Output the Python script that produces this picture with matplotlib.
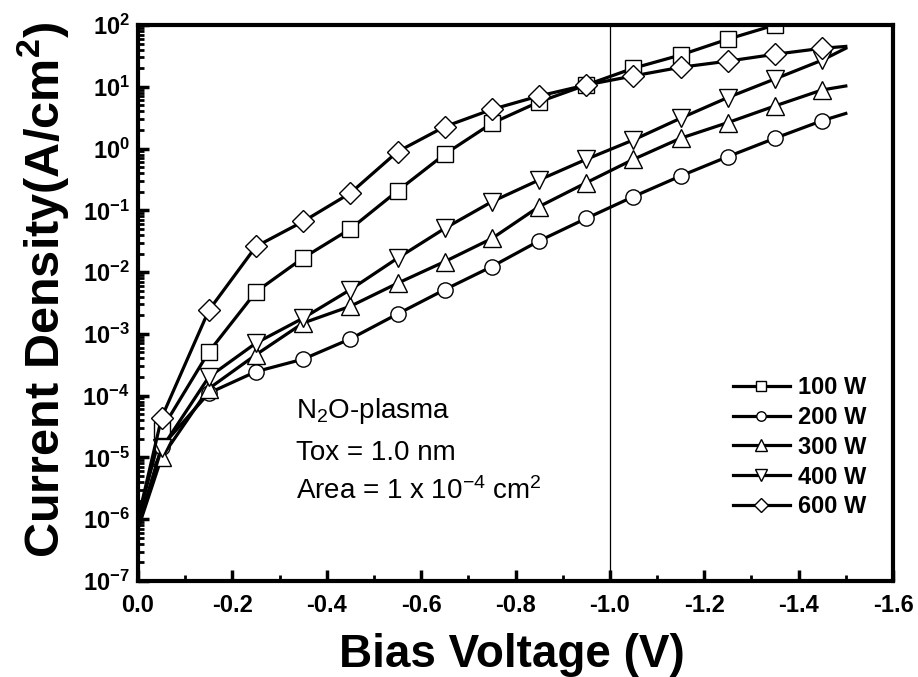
import numpy as np
import matplotlib
matplotlib.use('Agg')
import matplotlib.pyplot as plt
from matplotlib.lines import Line2D
from matplotlib.ticker import LogLocator, NullFormatter, MultipleLocator, FormatStrFormatter

plt.rcParams['font.family'] = ['Liberation Sans', 'DejaVu Sans']
plt.rcParams['font.weight'] = 'bold'
plt.rcParams['mathtext.default'] = 'regular'

# ---------------- data ----------------
bias_marker = [-0.05, -0.15, -0.25, -0.35, -0.45, -0.55, -0.65, -0.75,
               -0.85, -0.95, -1.05, -1.15, -1.25, -1.35, -1.45]
bias_start = 0.0
bias_end = -1.5

labels = ['100 W', '200 W', '300 W', '400 W', '600 W']
markers = ['s', 'o', '^', 'v', 'D']
marker_sizes = [11, 11, 13, 13, 11]

j_100 = [2.8e-5, 5.1e-4, 4.8e-3, 1.7e-2, 5.0e-2, 2.06e-1, 8.1e-1, 2.57, 5.7,
         10.7, 20.0, 32.7, 59.0, 100.0, 165.0]
j_200 = [1.5e-5, 1.1e-4, 2.45e-4, 3.9e-4, 8.3e-4, 2.1e-3, 5.2e-3, 1.23e-2,
         3.2e-2, 7.4e-2, 1.67e-1, 3.6e-1, 7.4e-1, 1.47, 2.83]
j_300 = [1.0e-5, 1.3e-4, 4.6e-4, 1.5e-3, 2.8e-3, 6.6e-3, 1.48e-2, 3.5e-2,
         1.15e-1, 2.8e-1, 6.7e-1, 1.47, 2.63, 4.9, 8.9]
j_400 = [1.4e-5, 2.0e-4, 7.1e-4, 1.8e-3, 5.2e-3, 1.68e-2, 5.1e-2, 1.38e-1,
         3.1e-1, 6.7e-1, 1.38, 3.1, 6.7, 13.4, 27.0]
j_600 = [4.4e-5, 2.4e-3, 2.6e-2, 6.6e-2, 1.9e-1, 8.9e-1, 2.26, 4.3, 7.1,
         10.7, 15.0, 20.7, 26.0, 33.6, 42.0]

j_start = [1.0e-6, 7.0e-7, 7.0e-7, 8.0e-7, 1.0e-6]
j_end = [None, 3.7, 10.3, 42.0, 45.0]

series = [j_100, j_200, j_300, j_400, j_600]

# ---------------- figure ----------------
W, H = 918, 677
fig = plt.figure(figsize=(W / 100, H / 100), dpi=100)
L, R, T, B = 138, 893, 25, 581
ax = fig.add_axes([L / W, 1 - B / H, (R - L) / W, (B - T) / H])

ax.axvline(-1.0, color='black', lw=0.9, zorder=1)

handles = []
z = 2
for lab, m, ms, jv, js, je in zip(labels, markers, marker_sizes, series, j_start, j_end):
    xl = [bias_start] + bias_marker
    yl = [js] + jv
    if je is not None:
        xl = xl + [bias_end]
        yl = yl + [je]
    ax.plot(xl, yl, color='black', lw=2.3, zorder=z, solid_joinstyle='round')
    ax.plot(bias_marker, jv, linestyle='none', marker=m, ms=ms, mfc='white',
            mec='black', mew=1.0, zorder=z + 0.5)
    z += 1
    handles.append(Line2D([], [], color='black', lw=2.3, marker=m, ms=ms,
                          mfc='white', mec='black', mew=1.0))

ax.set_yscale('log')
ax.set_ylim(1e-7, 1e2)
ax.set_xlim(0, -1.6)

ax.xaxis.set_major_locator(MultipleLocator(0.2))
ax.xaxis.set_minor_locator(MultipleLocator(0.1))
ax.xaxis.set_major_formatter(FormatStrFormatter('%.1f'))
ax.yaxis.set_major_locator(LogLocator(base=10, numticks=20))
ax.yaxis.set_minor_locator(LogLocator(base=10, subs=np.arange(2, 10), numticks=100))
ax.yaxis.set_minor_formatter(NullFormatter())

ax.tick_params(which='major', direction='in', length=8, width=2.5,
               labelsize=17, top=False, right=False)
ax.tick_params(which='minor', direction='in', length=4.5, width=2,
               top=False, right=False)
ax.tick_params(axis='x', which='major', pad=9)
ax.tick_params(axis='y', which='major', pad=6)

for sp in ax.spines.values():
    sp.set_linewidth(3)

leg = ax.legend(handles, labels, loc='upper left',
                bbox_to_anchor=(733 / W, 1 - 376 / H), bbox_transform=fig.transFigure,
                frameon=False, fontsize=17, markerscale=0.62, handlelength=2.4,
                handletextpad=0.35, labelspacing=0.29, borderpad=0, borderaxespad=0)

txt_kw = dict(fontsize=20, fontweight='normal', ha='left', va='baseline')
fig.text(296 / W, 1 - 418 / H, r'N$_{2}$O-plasma', **txt_kw)
fig.text(296 / W, 1 - 460 / H, 'Tox = 1.0 nm', **txt_kw)
fig.text(296 / W, 1 - 499 / H, r'Area = 1 x 10$^{-4}$ cm$^{2}$', **txt_kw)

fig.text(512 / W, 1 - 667 / H, 'Bias Voltage (V)', fontsize=33,
         fontweight='bold', ha='center', va='baseline')
fig.text(43 / W, 1 - 290 / H, r'Current Density(A/cm$^{2}$)', fontsize=35,
         fontweight='bold', ha='center', va='center', rotation=90)

fig.savefig('out.png', dpi=100)
